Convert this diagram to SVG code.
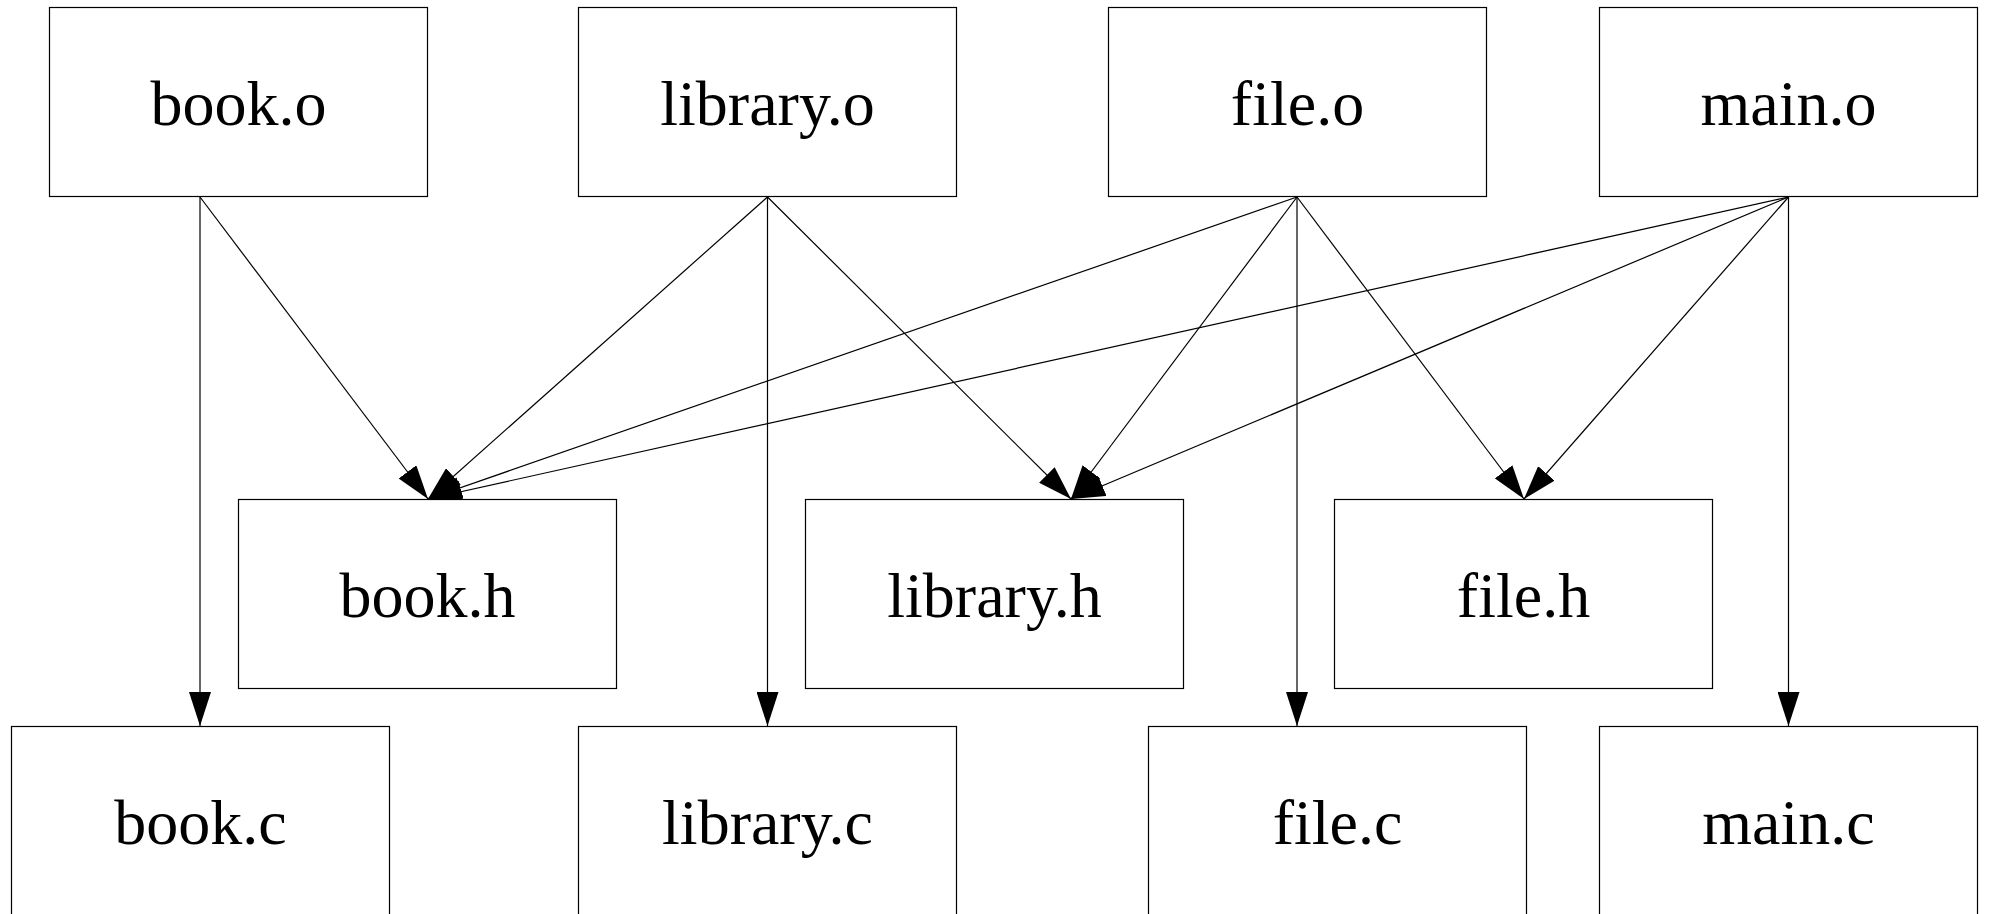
<svg xmlns="http://www.w3.org/2000/svg" width="1989" height="914" viewBox="0 0 1989 914">
<style>
.box{fill:#fff;stroke:#000;stroke-width:1.2}
.lbl{font-family:"Liberation Serif","Times New Roman",serif;font-size:64px;fill:#000;text-anchor:middle}
.edge{stroke:#000;stroke-width:1.2;fill:none;marker-end:url(#arr)}
</style>
<defs>
<marker id="arr" viewBox="0 0 34 22" markerWidth="34" markerHeight="22" refX="34" refY="11" markerUnits="userSpaceOnUse" orient="auto">
<path d="M0,0 L34,11 L0,22 z" fill="#000"/>
</marker>
</defs>
<rect width="1989" height="914" fill="#fff"/>
<g id="connectors">
<line class="edge" x1="200" y1="197" x2="200" y2="726"/>
<line class="edge" x1="200" y1="197" x2="428" y2="499"/>
<line class="edge" x1="767.5" y1="197" x2="428" y2="499"/>
<line class="edge" x1="767.5" y1="197" x2="767.5" y2="726"/>
<line class="edge" x1="767.5" y1="197" x2="1071" y2="499"/>
<line class="edge" x1="1297" y1="197" x2="428" y2="499"/>
<line class="edge" x1="1297" y1="197" x2="1071" y2="499"/>
<line class="edge" x1="1297" y1="197" x2="1297" y2="726"/>
<line class="edge" x1="1297" y1="197" x2="1524" y2="499"/>
<line class="edge" x1="1788.5" y1="197" x2="428" y2="499"/>
<line class="edge" x1="1788.5" y1="197" x2="1071" y2="499"/>
<line class="edge" x1="1788.5" y1="197" x2="1524" y2="499"/>
<line class="edge" x1="1788.5" y1="197" x2="1788.5" y2="726"/>
</g>
<g id="book_o"><rect class="box" x="49.5" y="7.5" width="378" height="189"/><text class="lbl" x="238.5" y="125">book.o</text></g>
<g id="library_o"><rect class="box" x="578.5" y="7.5" width="378" height="189"/><text class="lbl" x="767.5" y="125">library.o</text></g>
<g id="file_o"><rect class="box" x="1108.5" y="7.5" width="378" height="189"/><text class="lbl" x="1297.5" y="125">file.o</text></g>
<g id="main_o"><rect class="box" x="1599.5" y="7.5" width="378" height="189"/><text class="lbl" x="1788.5" y="125">main.o</text></g>
<g id="book_h"><rect class="box" x="238.5" y="499.5" width="378" height="189"/><text class="lbl" x="427.5" y="617">book.h</text></g>
<g id="library_h"><rect class="box" x="805.5" y="499.5" width="378" height="189"/><text class="lbl" x="994.5" y="617">library.h</text></g>
<g id="file_h"><rect class="box" x="1334.5" y="499.5" width="378" height="189"/><text class="lbl" x="1523.5" y="617">file.h</text></g>
<g id="book_c"><rect class="box" x="11.5" y="726.5" width="378" height="189"/><text class="lbl" x="200.5" y="844">book.c</text></g>
<g id="library_c"><rect class="box" x="578.5" y="726.5" width="378" height="189"/><text class="lbl" x="767.5" y="844">library.c</text></g>
<g id="file_c"><rect class="box" x="1148.5" y="726.5" width="378" height="189"/><text class="lbl" x="1337.5" y="844">file.c</text></g>
<g id="main_c"><rect class="box" x="1599.5" y="726.5" width="378" height="189"/><text class="lbl" x="1788.5" y="844">main.c</text></g>
</svg>
